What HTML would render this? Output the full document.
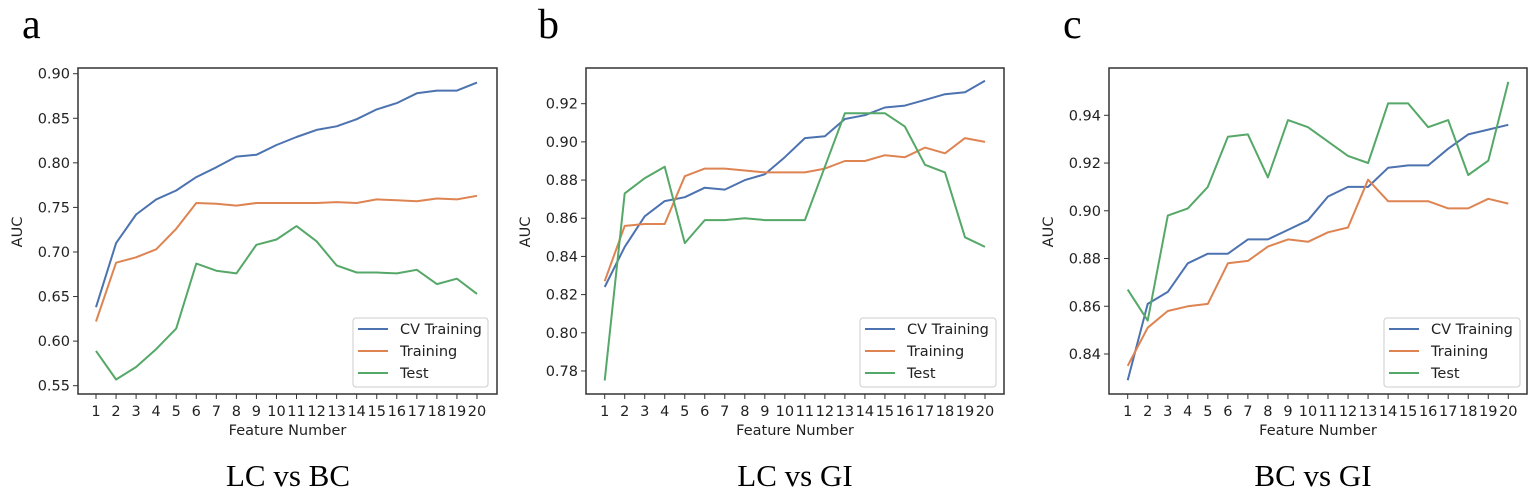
<!DOCTYPE html>
<html><head><meta charset="utf-8"><style>
html,body{margin:0;padding:0;background:#fff;}
svg{display:block;}
</style></head><body>
<svg id="s" width="1535" height="501" xmlns="http://www.w3.org/2000/svg" font-family="'DejaVu Sans','Liberation Sans',sans-serif"></svg>
<script>
const S=document.getElementById('s');
let h='';
const panels=[
 {L:78,R:497,x1:96,x20:477,ref:0.90,refy:73.7,ppu:891.4,ticks:[0.55,0.60,0.65,0.70,0.75,0.80,0.85,0.90],dec:2,lg:{x:353,w:135},
  cv:[.638,.710,.742,.759,.769,.784,.795,.807,.809,.820,.829,.837,.841,.849,.860,.867,.878,.881,.881,.890],
  tr:[.622,.688,.694,.703,.726,.755,.754,.752,.755,.755,.755,.755,.756,.755,.759,.758,.757,.760,.759,.763],
  te:[.589,.557,.571,.591,.614,.687,.679,.676,.708,.714,.729,.712,.685,.677,.677,.676,.680,.664,.670,.653],
  letter:'a',lx:22,title:'LC vs BC',tx:288},
 {L:586,R:1004,x1:604.7,x20:985,ref:0.92,refy:103.7,ppu:1909,ticks:[0.78,0.80,0.82,0.84,0.86,0.88,0.90,0.92],dec:2,lg:{x:860,w:136},
  cv:[.824,.845,.861,.869,.871,.876,.875,.880,.883,.892,.902,.903,.912,.914,.918,.919,.922,.925,.926,.932],
  tr:[.827,.856,.857,.857,.882,.886,.886,.885,.884,.884,.884,.886,.890,.890,.893,.892,.897,.894,.902,.900],
  te:[.775,.873,.881,.887,.847,.859,.859,.860,.859,.859,.859,.887,.915,.915,.915,.908,.888,.884,.850,.845],
  letter:'b',lx:538,title:'LC vs GI',tx:795},
 {L:1109,R:1527,x1:1127.7,x20:1508.3,ref:0.94,refy:115.3,ppu:2387,ticks:[0.84,0.86,0.88,0.90,0.92,0.94],dec:2,lg:{x:1384,w:136},
  cv:[.829,.861,.866,.878,.882,.882,.888,.888,.892,.896,.906,.910,.910,.918,.919,.919,.926,.932,.934,.936],
  tr:[.835,.851,.858,.860,.861,.878,.879,.885,.888,.887,.891,.893,.913,.904,.904,.904,.901,.901,.905,.903],
  te:[.867,.854,.898,.901,.910,.931,.932,.914,.938,.935,.929,.923,.920,.945,.945,.935,.938,.915,.921,.954],
  letter:'c',lx:1063,title:'BC vs GI',tx:1313}
];
const T=68,B=394,C={cv:'#4c72b0',tr:'#dd8452',te:'#55a868'};
for(const p of panels){
 const st=(p.x20-p.x1)/19;
 const X=i=>p.x1+i*st, Y=v=>p.refy+(p.ref-v)*p.ppu;
 h+=`<rect x="${p.L}" y="${T}" width="${p.R-p.L}" height="${B-T}" fill="none" stroke="#333" stroke-width="1.5"/>`;
 for(const t of p.ticks){const y=Y(t);h+=`<line x1="${p.L-5}" x2="${p.L}" y1="${y}" y2="${y}" stroke="#333"/><text x="${p.L-8}" y="${y+5}" font-size="14.5" text-anchor="end" fill="#222">${t.toFixed(p.dec)}</text>`;}
 for(let i=0;i<20;i++){const x=X(i);h+=`<line x1="${x}" x2="${x}" y1="${B}" y2="${B+5}" stroke="#333"/><text x="${x}" y="${B+22}" font-size="14.5" text-anchor="middle" fill="#222">${i+1}</text>`;}
 h+=`<text x="${(p.L+p.R)/2}" y="${435}" font-size="14.5" text-anchor="middle" fill="#222">Feature Number</text>`;
 h+=`<text transform="translate(${p.L-56},232) rotate(-90)" font-size="14.5" text-anchor="middle" fill="#222">AUC</text>`;
 for(const k of ['cv','tr','te']){h+=`<polyline fill="none" stroke="${C[k]}" stroke-width="2" stroke-linejoin="round" points="${p[k].map((v,i)=>X(i).toFixed(1)+','+Y(v).toFixed(1)).join(' ')}"/>`;}
 const lx=p.lg.x;
 h+=`<rect x="${lx}" y="318" width="${p.lg.w}" height="69" rx="3" fill="#fff" fill-opacity="0.85" stroke="#ccc"/>`;
 [['cv','CV Training'],['tr','Training'],['te','Test']].forEach(([k,n],j)=>{const y=329+j*22;h+=`<line x1="${lx+5}" x2="${lx+35}" y1="${y}" y2="${y}" stroke="${C[k]}" stroke-width="2"/><text x="${lx+47}" y="${y+5}" font-size="14.5" fill="#222">${n}</text>`;});
 h+=`<text x="${p.lx}" y="38" font-size="42" font-family="'Liberation Serif',serif" fill="#000">${p.letter}</text>`;
 h+=`<text x="${p.tx}" y="486" font-size="31" font-family="'Liberation Serif',serif" text-anchor="middle" fill="#000">${p.title}</text>`;
}
S.innerHTML=h;
</script>
</body></html>
